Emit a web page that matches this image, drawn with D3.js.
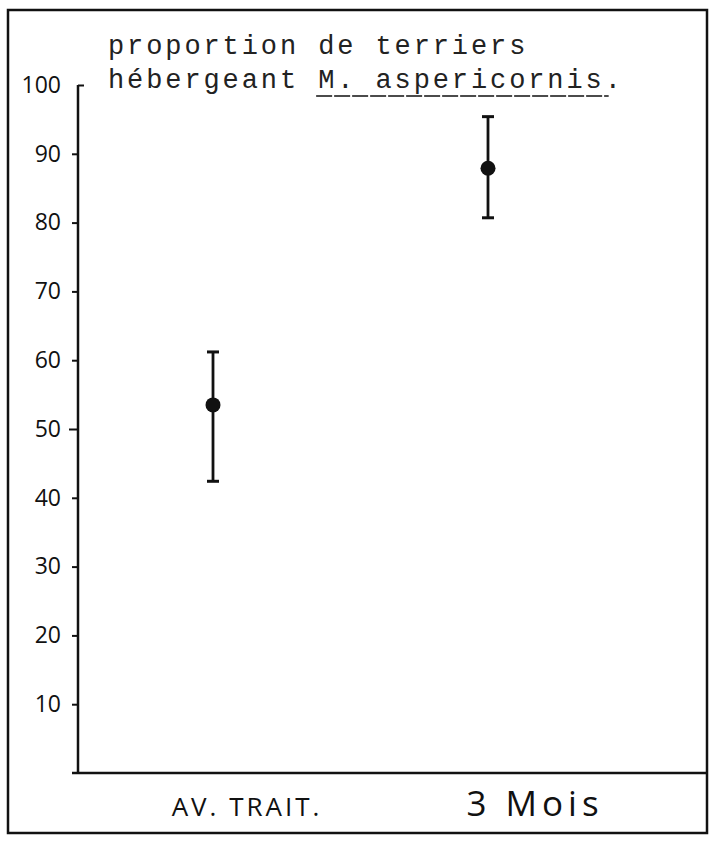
<!DOCTYPE html>
<html lang="fr">
<head>
<meta charset="UTF-8">
<title>Terriers</title>
<style>
body { margin: 0; background: #fff; }
.title { font: 27px "Liberation Mono", monospace; letter-spacing: 2.9px; fill: #222; }
.tick text { font: 23px "Open Sans", sans-serif; fill: #111; }
.xlab { font-family: "Open Sans", sans-serif; fill: #111; }
</style>
</head>
<body>
<script src="https://d3js.org/d3.v7.min.js"></script>
<script>
// donnees
var categories = ["AV. TRAIT.", "3 Mois"];
var means = [53.5, 87.9];
var lows = [42.4, 80.7];
var highs = [61.2, 95.4];
var yTicks = [10, 20, 30, 40, 50, 60, 70, 80, 90, 100];
var titleLines = ["proportion de terriers", "hébergeant M. aspericornis."];
var underlined = "M. aspericornis";

var width = 715, height = 843;

var svg = d3.select("body").append("svg")
    .attr("width", width)
    .attr("height", height);

// cadre
svg.append("rect")
    .attr("x", 8).attr("y", 10)
    .attr("width", 699).attr("height", 823)
    .attr("fill", "none").attr("stroke", "#111").attr("stroke-width", 2.5);

var y = d3.scaleLinear().domain([0, 100]).range([773, 85]);
var x = d3.scalePoint().domain(categories).range([213, 488]);

// axe y
var gy = svg.append("g")
    .attr("transform", "translate(78,0)")
    .call(d3.axisLeft(y).tickValues(yTicks).tickSize(6).tickPadding(11));
gy.select(".domain").remove();
gy.selectAll(".tick line").attr("stroke", "#111").attr("stroke-width", 2);
gy.selectAll(".tick").filter(function(d) { return d === 100; })
    .select("line").attr("x2", 6);
gy.selectAll(".tick").filter(function(d) { return d === 50; })
    .select("line").attr("x2", -9);

svg.append("line")
    .attr("x1", 78).attr("x2", 78)
    .attr("y1", y(100)).attr("y2", y(0))
    .attr("stroke", "#111").attr("stroke-width", 2.5);

// axe x
svg.append("line")
    .attr("x1", 72).attr("x2", 707)
    .attr("y1", y(0)).attr("y2", y(0))
    .attr("stroke", "#111").attr("stroke-width", 2.5);

// titre
svg.append("text").attr("class", "title")
    .attr("x", 108).attr("y", 54).text(titleLines[0]);
var t2 = svg.append("text").attr("class", "title")
    .attr("x", 108).attr("y", 88).text(titleLines[1]);

var node = t2.node();
var i0 = titleLines[1].indexOf(underlined);
var ux0 = node.getStartPositionOfChar(i0).x;
var ux1 = node.getEndPositionOfChar(i0 + underlined.length - 1).x;
svg.append("line")
    .attr("x1", ux0 - 2).attr("x2", ux1 + 4)
    .attr("y1", 96).attr("y2", 96)
    .attr("stroke", "#111").attr("stroke-width", 1.6)
    .attr("stroke-dasharray", "16,2");

// barres d'erreur
var pts = svg.append("g").selectAll("g")
    .data(categories)
    .join("g")
    .attr("transform", function(d) { return "translate(" + x(d) + ",0)"; });

pts.append("line")
    .attr("y1", function(d, i) { return y(highs[i]); })
    .attr("y2", function(d, i) { return y(lows[i]); })
    .attr("stroke", "#111").attr("stroke-width", 2.8);
pts.append("line")
    .attr("x1", -6).attr("x2", 6)
    .attr("y1", function(d, i) { return y(highs[i]); })
    .attr("y2", function(d, i) { return y(highs[i]); })
    .attr("stroke", "#111").attr("stroke-width", 3);
pts.append("line")
    .attr("x1", -6).attr("x2", 6)
    .attr("y1", function(d, i) { return y(lows[i]); })
    .attr("y2", function(d, i) { return y(lows[i]); })
    .attr("stroke", "#111").attr("stroke-width", 3);
pts.append("circle")
    .attr("cy", function(d, i) { return y(means[i]); })
    .attr("r", 7.5)
    .attr("fill", "#111");

// etiquettes x
var labelDx = [34, 47];
var labelSize = [26, 35];
var labelSpacing = [3, 5];
svg.selectAll(".xlab")
    .data(categories)
    .join("text")
    .attr("class", "xlab")
    .attr("x", function(d, i) { return x(d) + labelDx[i]; })
    .attr("y", 816)
    .attr("text-anchor", "middle")
    .style("font-size", function(d, i) { return labelSize[i] + "px"; })
    .style("letter-spacing", function(d, i) { return labelSpacing[i] + "px"; })
    .text(function(d) { return d; });
</script>
</body>
</html>
